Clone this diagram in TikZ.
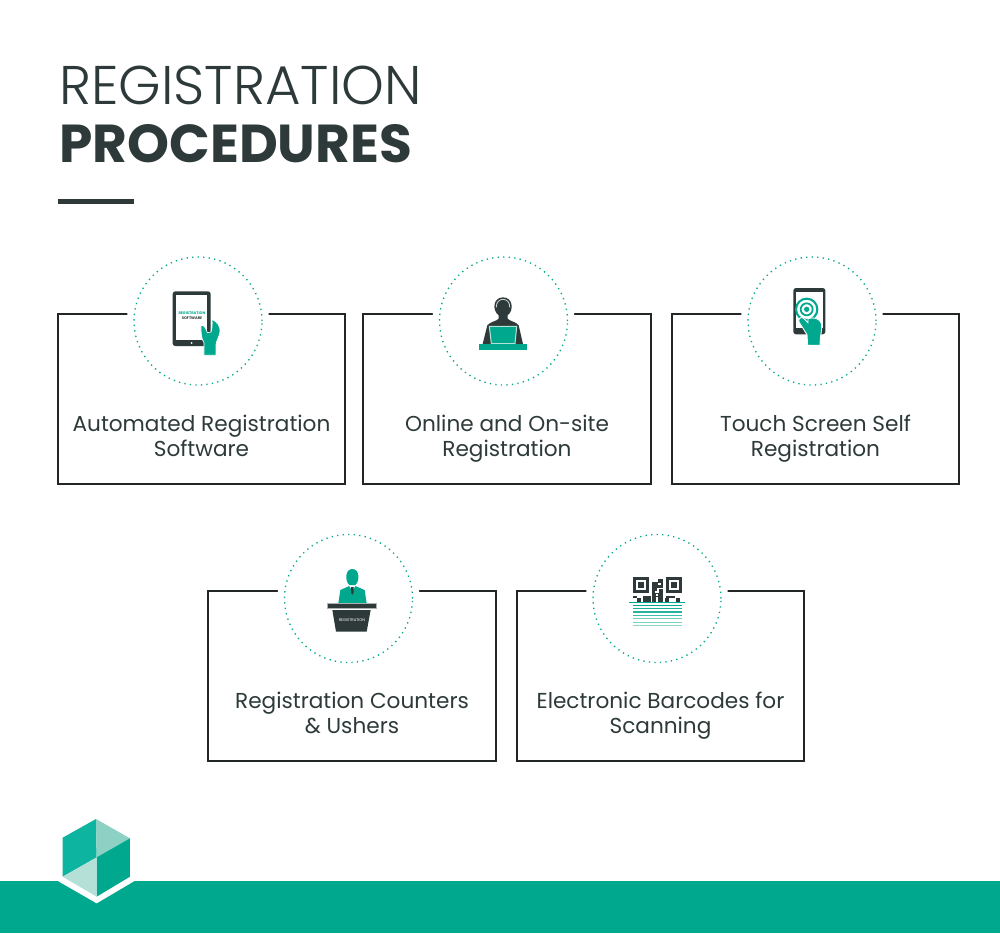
\documentclass[tikz,border=0pt]{standalone}
\usepackage{fontspec}
\setmainfont{Poppins}
\newfontfamily\titlelight{Poppins Light}
\usepackage{tikz}
\usetikzlibrary{positioning}
\definecolor{TealColor}{RGB}{0,168,142}
\definecolor{TealLight}{RGB}{13,181,160}
\definecolor{PaleTeal}{RGB}{141,208,196}
\definecolor{PalerTeal}{RGB}{181,224,216}
\definecolor{DarkColor}{RGB}{46,58,58}
\definecolor{LineColor}{RGB}{34,38,38}

\begin{document}
\begin{tikzpicture}[
        x=0.02cm, y=-0.02cm,
        regbox/.style={draw=LineColor, line width=1pt, minimum width=5.75cm, minimum height=3.4cm, inner sep=0pt},
        gapdisc/.style={circle, fill=white, minimum size=2.84cm, inner sep=0pt},
        ring/.style={circle, draw=TealColor, line width=0.75pt, dash pattern=on 0.75pt off 2.4pt, minimum size=2.56cm, inner sep=0pt},
        label/.style={align=center, text=DarkColor, font=\fontsize{12.3}{14.2}\selectfont},
        icon/.style={shift={(#1)}, x=0.00667cm, y=-0.00667cm}
    ]
        \useasboundingbox (0,0) rectangle (1000,933);
        \fill[white] (0,0) rectangle (1000,933);

        % title
        \node[anchor=base west, inner sep=0pt, text=DarkColor, font=\titlelight\fontsize{31}{33}\selectfont] (title) at (59,104.5) {REGISTRATION};
        \node[anchor=base west, inner sep=0pt, text=DarkColor, font=\bfseries\fontsize{30.4}{33}\selectfont] (subtitle) at (59,162.5) {PROCEDURES};
        \fill[DarkColor] (58,199) rectangle (134,204);

        % boxes
        \node[regbox] (box1) at (201.5,399) {};
        \node[regbox] (box2) at (507,399) {};
        \node[regbox] (box3) at (815.5,399) {};
        \node[regbox] (box4) at (352,676.3) {};
        \node[regbox] (box5) at (660.5,676.3) {};

        \node[gapdisc] at (198,321) {};
        \node[gapdisc] at (503.5,321) {};
        \node[gapdisc] at (812,321) {};
        \node[gapdisc] at (348.5,598.5) {};
        \node[gapdisc] at (657,598.5) {};

        \node[ring] (ring1) at (198,321) {};
        \node[ring] (ring2) at (503.5,321) {};
        \node[ring] (ring3) at (812,321) {};
        \node[ring] (ring4) at (348.5,598.5) {};
        \node[ring] (ring5) at (657,598.5) {};

        % labels
        \node[label] (text1) at (201.5,435.5) {Automated Registration\\Software};
        \node[label] (text2) at (507,438.5) {Online and On-site\\Registration};
        \node[label] (text3) at (815.5,438.5) {Touch Screen Self\\Registration};
        \node[label] (text4) at (352,712.5) {Registration Counters\\\& Ushers};
        \node[label] (text5) at (660.5,715.5) {Electronic Barcodes for\\Scanning};

        % tablet icon
        \begin{scope}[icon={130,250}]
            \fill[DarkColor, rounded corners=1.5pt] (128,124) rectangle (242,288);
            \fill[white] (139,136) rectangle (231,271);
            \node[inner sep=0pt, text=TealColor, font=\bfseries\fontsize{2.1}{3}\selectfont] (tabtop) at (186,191) {REGISTRATION};
            \node[inner sep=0pt, text=DarkColor, font=\bfseries\fontsize{2.1}{3}\selectfont] (tabbot) at (186,205) {SOFTWARE};
            \fill[white] (185,279) circle (3);
            \fill[TealColor, draw=white, line width=0.4pt] (222,316) -- (222,278) .. controls (214,268) and (212,245) .. (213,226)
                .. controls (222,224) and (228,235) .. (232,248) -- (243,246) .. controls (247,236) and (247,220) .. (246,208)
                .. controls (262,215) and (272,230) .. (270,245) .. controls (268,262) and (258,272) .. (258,285) -- (258,316) -- cycle;
        \end{scope}

        % agent icon
        \begin{scope}[icon={435,250}]
            \fill[DarkColor] (143,282) -- (157,226) .. controls (165,215) and (185,214) .. (191,206) -- (191,196)
                .. controls (170,180) and (175,142) .. (204,142) .. controls (233,142) and (238,180) .. (218,196) -- (218,206)
                .. controls (224,214) and (244,215) .. (251,226) -- (264,282) -- cycle;
            \draw[white!75!DarkColor, line width=0.5pt] (184,172) .. controls (182,140) and (226,140) .. (224,172);
            \fill[TealColor, draw=PalerTeal, line width=0.6pt] (163,229) -- (245,229) -- (240,281) -- (169,281) -- cycle;
            \fill[TealColor] (132,283) rectangle (275,299);
        \end{scope}

        % touch icon
        \begin{scope}[icon={745,250}]
            \fill[DarkColor, rounded corners=1.5pt] (145,114) rectangle (241,253);
            \fill[white] (154,126) rectangle (233,235);
            \draw[TealColor, line width=1.2pt] (185,178) circle (32);
            \draw[TealColor, line width=1pt] (185,178) circle (18);
            \fill[TealColor] (185,178) circle (8);
            \fill[TealColor, draw=white, line width=0.5pt] (188,286) -- (186,254) -- (162,216) .. controls (158,205) and (170,198) .. (177,206)
                -- (189,218) -- (189,206) .. controls (205,200) and (225,205) .. (230,222) .. controls (232,240) and (225,255) .. (225,286) -- cycle;
        \end{scope}

        % counter icon
        \begin{scope}[icon={280,530}]
            \fill[TealColor] (217,117) .. controls (194,117) and (195,155) .. (208,165) -- (226,165) .. controls (239,155) and (240,117) .. (217,117) -- cycle;
            \fill[TealColor] (175,220) -- (181,180) -- (208,168) -- (226,168) -- (254,180) -- (260,220) -- cycle;
            \fill[white] (208,168) -- (226,168) -- (217,182) -- cycle;
            \fill[DarkColor] (213,171) -- (221,171) -- (221,188) -- (217,194) -- (213,188) -- cycle;
            \fill[DarkColor, draw=white!60!DarkColor, line width=0.3pt] (141,220) rectangle (288,236);
            \fill[DarkColor] (157,240) -- (272,240) -- (260,305) -- (168,305) -- cycle;
            \node[inner sep=0pt, text=white, font=\fontsize{2.2}{3}\selectfont] (podium) at (216,271) {REGISTRATION};
        \end{scope}

        % barcode icon
        \begin{scope}[icon={590,530}]
            \foreach \qx in {128,227} {
                \fill[DarkColor] (\qx,140) rectangle ++(50,50);
                \fill[white] (\qx+9,149) rectangle ++(32,32);
                \fill[DarkColor] (\qx+16,156) rectangle ++(18,18);
            }
            \foreach \qx/\qy/\qw/\qh in {205/147/15/12, 186/157/34/18, 186/175/16/15, 208/178/12/12, 186/190/34/10, 186/200/12/15, 204/200/16/15,
                    128/197/14/7, 140/204/12/11, 158/197/26/8, 160/205/24/10, 228/197/28/7, 226/204/12/11, 258/204/12/11} {
                \fill[DarkColor] (\qx,\qy) rectangle ++(\qw,\qh);
            }
            \fill[white] (205,160) rectangle ++(8,6);
            \fill[white] (195,182) rectangle ++(7,6);
            \fill[white] (198,192) rectangle ++(6,6);
            \draw[TealColor, line width=0.8pt] (118,217) -- (285,217);
            \foreach \sy/\so in {227/1, 236/0.9, 246/0.85, 256/0.75, 266/0.55, 277/0.5, 287/0.45} {
                \draw[TealColor, opacity=\so, line width=0.7pt] (128,\sy) -- (276,\sy);
            }
        \end{scope}

        % footer band
        \fill[TealColor] (0,881) rectangle (1000,933);
        \begin{scope}[icon={40,800}]
            \fill[white] (52,242) -- (170,310) -- (285,242) -- cycle;
            \fill[TealLight] (168,57) -- (68,113) -- (68,230) -- (170,172) -- cycle;
            \fill[PaleTeal] (168,57) -- (270,115) -- (170,172) -- cycle;
            \fill[TealColor] (270,115) -- (270,230) -- (170,290) -- (170,172) -- cycle;
            \fill[PalerTeal] (68,230) -- (170,172) -- (170,290) -- cycle;
        \end{scope}
    \end{tikzpicture}
\end{document}
